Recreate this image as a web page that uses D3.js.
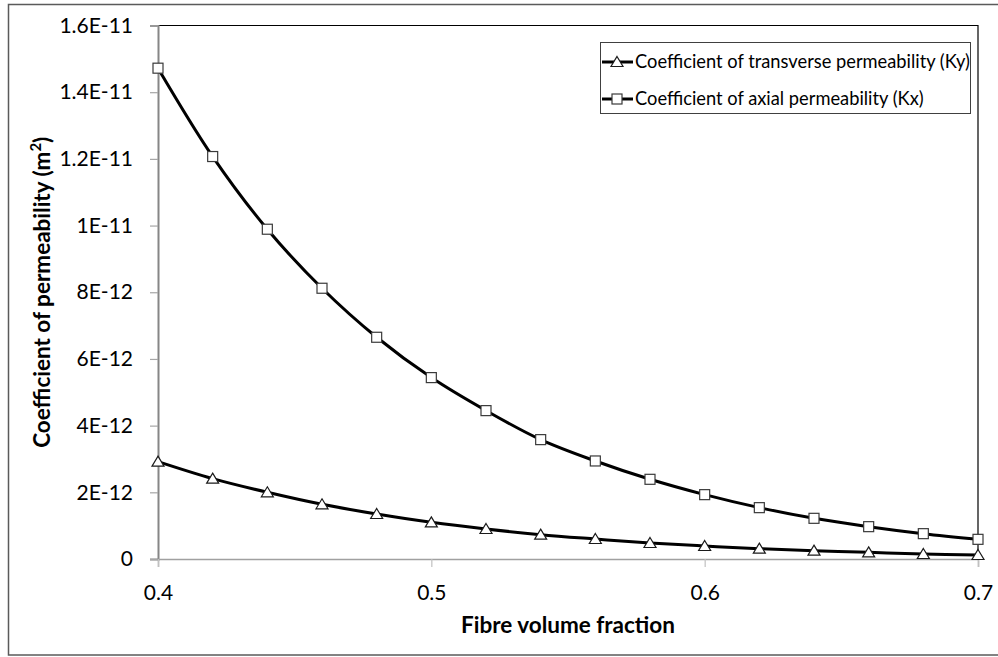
<!DOCTYPE html>
<html>
<head>
<meta charset="utf-8">
<script src="https://cdn.jsdelivr.net/npm/d3@7"></script>
<style>
  body { margin: 0; background: #fff; }
  svg { display: block; font-family: Lato, "Open Sans", sans-serif; }
</style>
</head>
<body>
<div id="chart"></div>
<script>
// fibre volume fraction (x) and permeabilities (units of 1E-12 m2)
const fibreFraction = [0.40, 0.42, 0.44, 0.46, 0.48, 0.50, 0.52, 0.54, 0.56, 0.58, 0.60, 0.62, 0.64, 0.66, 0.68, 0.70];
const kxAxial = [14.72, 12.07, 9.89, 8.12, 6.65, 5.44, 4.45, 3.58, 2.94, 2.39, 1.93, 1.54, 1.22, 0.97, 0.76, 0.59];
const kyTransverse = [2.92, 2.41, 2.00, 1.64, 1.35, 1.10, 0.90, 0.73, 0.60, 0.48, 0.39, 0.31, 0.25, 0.20, 0.15, 0.12];

const yTicks = [0, 2e-12, 4e-12, 6e-12, 8e-12, 1e-11, 1.2e-11, 1.4e-11, 1.6e-11];
const yTickLabels = ["0", "2E-12", "4E-12", "6E-12", "8E-12", "1E-11", "1.2E-11", "1.4E-11", "1.6E-11"];
const xTicks = [0.4, 0.5, 0.6, 0.7];
const xTickLabels = ["0.4", "0.5", "0.6", "0.7"];

const seriesNames = ["Coefficient of transverse permeability (Ky)", "Coefficient of axial permeability (Kx)"];

const W = 998, H = 657;
const plot = {left: 158, right: 978, top: 25.5, bottom: 559};

const svg = d3.select("#chart").append("svg")
    .attr("width", W)
    .attr("height", H);

// outer chart border (right edge runs off the picture)
svg.append("rect")
    .attr("x", 8.5).attr("y", 4.5)
    .attr("width", 1000).attr("height", 650.5)
    .attr("fill", "none")
    .attr("stroke", "#5a5a5a")
    .attr("stroke-width", 1.5);

const x = d3.scaleLinear().domain([0.4, 0.7]).range([plot.left, plot.right]);
const y = d3.scaleLinear().domain([0, 1.6e-11]).range([plot.bottom, plot.top]);

// plot area frame: top and right in black
svg.append("path")
    .attr("d", `M${plot.left},${plot.top}H${plot.right}V${plot.bottom}`)
    .attr("fill", "none")
    .attr("stroke", "#000")
    .attr("stroke-width", 1.2);

// Y axis
const yAxis = svg.append("g")
    .attr("transform", `translate(${plot.left},0)`)
    .call(d3.axisLeft(y).tickValues(yTicks)
        .tickFormat((d, i) => yTickLabels[i])
        .tickSize(8).tickPadding(17));
yAxis.select(".domain").attr("stroke", "#868686").attr("stroke-width", 2);
yAxis.selectAll(".tick line").attr("stroke", "#a6a6a6").attr("stroke-width", 1.2);
yAxis.selectAll(".tick text")
    .attr("font-family", "Lato, sans-serif")
    .attr("font-size", 21)
    .attr("fill", "#000");

// X axis
const xAxis = svg.append("g")
    .attr("transform", `translate(0,${plot.bottom})`)
    .call(d3.axisBottom(x).tickValues(xTicks)
        .tickFormat((d, i) => xTickLabels[i])
        .tickSize(8).tickPadding(18));
xAxis.select(".domain").attr("stroke", "#a0a0a0").attr("stroke-width", 1.5);
xAxis.selectAll(".tick line").attr("stroke", "#c0c0c0").attr("stroke-width", 1.2);
xAxis.selectAll(".tick text")
    .attr("font-family", "Lato, sans-serif")
    .attr("font-size", 21)
    .attr("fill", "#000");

// axis titles
svg.append("text")
    .attr("x", (plot.left + plot.right) / 2)
    .attr("y", 633)
    .attr("text-anchor", "middle")
    .attr("font-size", 22.5)
    .attr("font-weight", "bold")
    .text("Fibre volume fraction");

const yTitle = svg.append("text")
    .attr("transform", `translate(50,${(plot.top + plot.bottom) / 2}) rotate(-90)`)
    .attr("text-anchor", "middle")
    .attr("font-size", 22.5)
    .attr("font-weight", "bold");
yTitle.append("tspan").text("Coefficient of permeability (m");
yTitle.append("tspan").attr("baseline-shift", "super").attr("font-size", 15).text("2");
yTitle.append("tspan").text(")");

// smoothed lines
const line = d3.line()
    .x(d => x(d[0]))
    .y(d => y(d[1]))
    .curve(d3.curveCatmullRom);

const kxData = fibreFraction.map((f, i) => [f, kxAxial[i] * 1e-12]);
const kyData = fibreFraction.map((f, i) => [f, kyTransverse[i] * 1e-12]);

[kxData, kyData].forEach(data => {
    svg.append("path")
        .datum(data)
        .attr("d", line)
        .attr("fill", "none")
        .attr("stroke", "#000")
        .attr("stroke-width", 3);
});

const trianglePath = "M0,-5.5L6,4.5L-6,4.5Z";

// markers
svg.append("g").selectAll("rect")
    .data(kxData)
    .enter().append("rect")
    .attr("x", d => x(d[0]) - 5)
    .attr("y", d => y(d[1]) - 5)
    .attr("width", 10).attr("height", 10)
    .attr("fill", "#fff")
    .attr("stroke", "#3a3a3a")
    .attr("stroke-width", 1.2);

svg.append("g").selectAll("path")
    .data(kyData)
    .enter().append("path")
    .attr("d", trianglePath)
    .attr("transform", d => `translate(${x(d[0])},${y(d[1])})`)
    .attr("fill", "#fff")
    .attr("stroke", "#1a1a1a")
    .attr("stroke-width", 1.2);

// legend
const legend = svg.append("g");
legend.append("rect")
    .attr("x", 600.5).attr("y", 42.5)
    .attr("width", 370).attr("height", 71)
    .attr("fill", "#fff")
    .attr("stroke", "#404040")
    .attr("stroke-width", 1);

const rowY = [62, 99];
seriesNames.forEach((name, i) => {
    legend.append("line")
        .attr("x1", 602).attr("x2", 633)
        .attr("y1", rowY[i]).attr("y2", rowY[i])
        .attr("stroke", "#000")
        .attr("stroke-width", 3);
    if (i === 0) {
        legend.append("path")
            .attr("d", trianglePath)
            .attr("transform", `translate(617,${rowY[i]})`)
            .attr("fill", "#fff")
            .attr("stroke", "#1a1a1a")
            .attr("stroke-width", 1.2);
    } else {
        legend.append("rect")
            .attr("x", 612).attr("y", rowY[i] - 5)
            .attr("width", 10).attr("height", 10)
            .attr("fill", "#fff")
            .attr("stroke", "#3a3a3a")
            .attr("stroke-width", 1.2);
    }
    legend.append("text")
        .attr("x", 635)
        .attr("y", rowY[i])
        .attr("dy", "0.35em")
        .attr("font-size", 18.3)
        .text(name);
});
</script>
</body>
</html>
